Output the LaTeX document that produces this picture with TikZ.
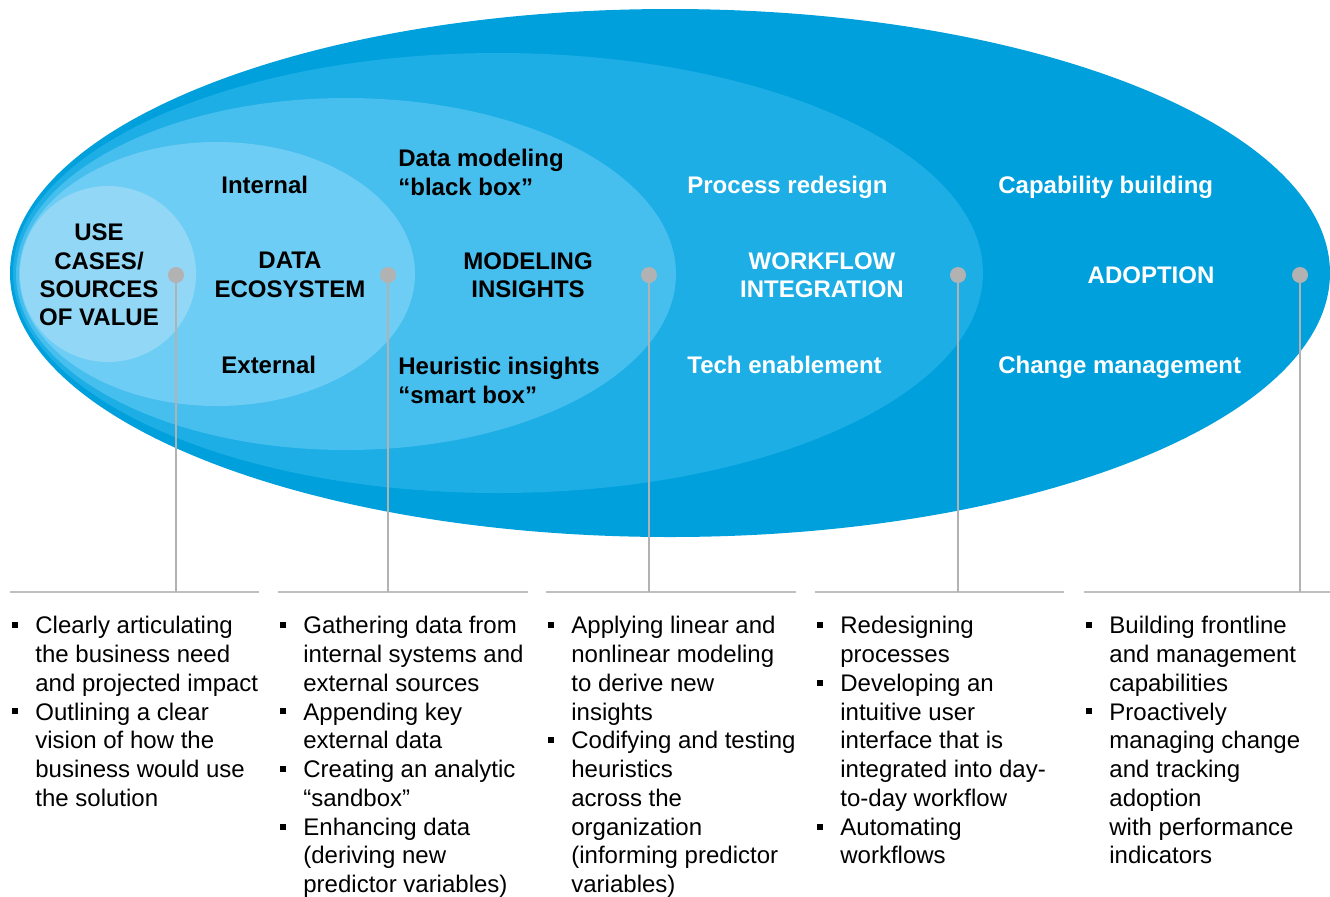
\documentclass[tikz,border=0pt]{standalone}
\usepackage{fontspec}
\setmainfont{Liberation Sans}
\usetikzlibrary{positioning}
\definecolor{ringA}{RGB}{0,160,220}
\definecolor{ringB}{RGB}{28,174,229}
\definecolor{ringC}{RGB}{70,190,238}
\definecolor{ringD}{RGB}{110,205,244}
\definecolor{ringE}{RGB}{146,216,246}
\definecolor{pingray}{RGB}{178,178,178}
\definecolor{rulegray}{RGB}{191,191,191}
\newcommand{\bul}{\makebox[11.5pt][l]{\rule[2.8pt]{3pt}{3pt}}} % square bullet
\newcommand{\ind}{\hspace*{11.5pt}} % hanging indent
\tikzset{x=0.5pt, y=-0.5pt, % one unit is one pixel of the layout, y downwards
      tag/.style={ % bold texts inside the rings
      font=\fontsize{12}{14.2}\selectfont\bfseries,
      inner sep=0pt, align=center},
      sidetag/.style={tag, align=left, anchor=north west},
      pindot/.style={circle, fill=pingray, minimum size=8pt, inner sep=0pt},
      pinline/.style={draw=pingray, line width=1pt},
      colrule/.style={draw=rulegray, line width=1pt},
      notes/.style={ % bullet lists under the rules
      font=\fontsize{12}{14.38}\selectfont,
      inner sep=0pt, align=left, anchor=north west}}

\begin{document}
\begin{tikzpicture}
      \fill[white] (0,0) rectangle (1330,896);
      \useasboundingbox (0,0) rectangle (1330,896);
      % nested rings
      \fill[ringA] (670,273) ellipse (660 and 264);
      \fill[ringB] (498,273) ellipse (485 and 220);
      \fill[ringC] (346,274) ellipse (330 and 176);
      \fill[ringD] (217,274) ellipse (198 and 132);
      \fill[ringE] (108,274) ellipse (88 and 88);
      % ring titles
      \node[tag] (useL) at (99,275) {USE\\CASES/\\SOURCES\\OF VALUE};
      \node[tag] (dataL) at (290,275) {DATA\\ECOSYSTEM};
      \node[tag] (modL) at (528,275) {MODELING\\INSIGHTS};
      \node[tag, white] (flowL) at (822,275) {WORKFLOW\\INTEGRATION};
      \node[tag, white] (adoptL) at (1151,275) {ADOPTION};
      % ring details
      \node[sidetag] (internal) at (221,176) {Internal};
      \node[sidetag] (external) at (221,356) {External};
      \node[sidetag] (blackbox) at (398,149) {Data modeling\\“black box”};
      \node[sidetag] (smartbox) at (398,357) {Heuristic insights\\“smart box”};
      \node[sidetag, white] (redesign) at (687,176) {Process redesign};
      \node[sidetag, white] (techen) at (687,356) {Tech enablement};
      \node[sidetag, white] (capab) at (998,176) {Capability building};
      \node[sidetag, white] (changem) at (998,356) {Change management};
      % pins down to the column rules
      \foreach \n/\px/\a/\b in {1/176/10/259, 2/388/278/528, 3/649/546/796,
            4/958/815/1064, 5/1300/1084/1330}{
            \draw[colrule] (\a,592) -- (\b,592);
            \coordinate (foot\n) at (\px,592);
            \node[pindot] (dot\n) at (\px,275) {};
            \draw[pinline] (dot\n) -- (foot\n);
      }
      % column notes
      \node[notes] (useN) at (12,616) {\bul Clearly articulating\\ \ind the business need\\
            \ind and projected impact\\ \bul Outlining a clear\\ \ind vision of how the\\
            \ind business would use\\ \ind the solution};
      \node[notes] (dataN) at (280,616) {\bul Gathering data from\\ \ind internal systems and\\
            \ind external sources\\ \bul Appending key\\ \ind external data\\
            \bul Creating an analytic\\ \ind “sandbox”\\ \bul Enhancing data\\
            \ind (deriving new\\ \ind predictor variables)};
      \node[notes] (modN) at (548,616) {\bul Applying linear and\\ \ind nonlinear modeling\\
            \ind to derive new\\ \ind insights\\ \bul Codifying and testing\\ \ind heuristics\\
            \ind across the\\ \ind organization\\ \ind (informing predictor\\ \ind variables)};
      \node[notes] (flowN) at (817,616) {\bul Redesigning\\ \ind processes\\
            \bul Developing an\\ \ind intuitive user\\ \ind interface that is\\
            \ind integrated into day-\\ \ind to-day workflow\\ \bul Automating\\ \ind workflows};
      \node[notes] (adoptN) at (1086,616) {\bul Building frontline\\ \ind and management\\
            \ind capabilities\\ \bul Proactively\\ \ind managing change\\ \ind and tracking\\
            \ind adoption\\ \ind with performance\\ \ind indicators};
\end{tikzpicture}
\end{document}
